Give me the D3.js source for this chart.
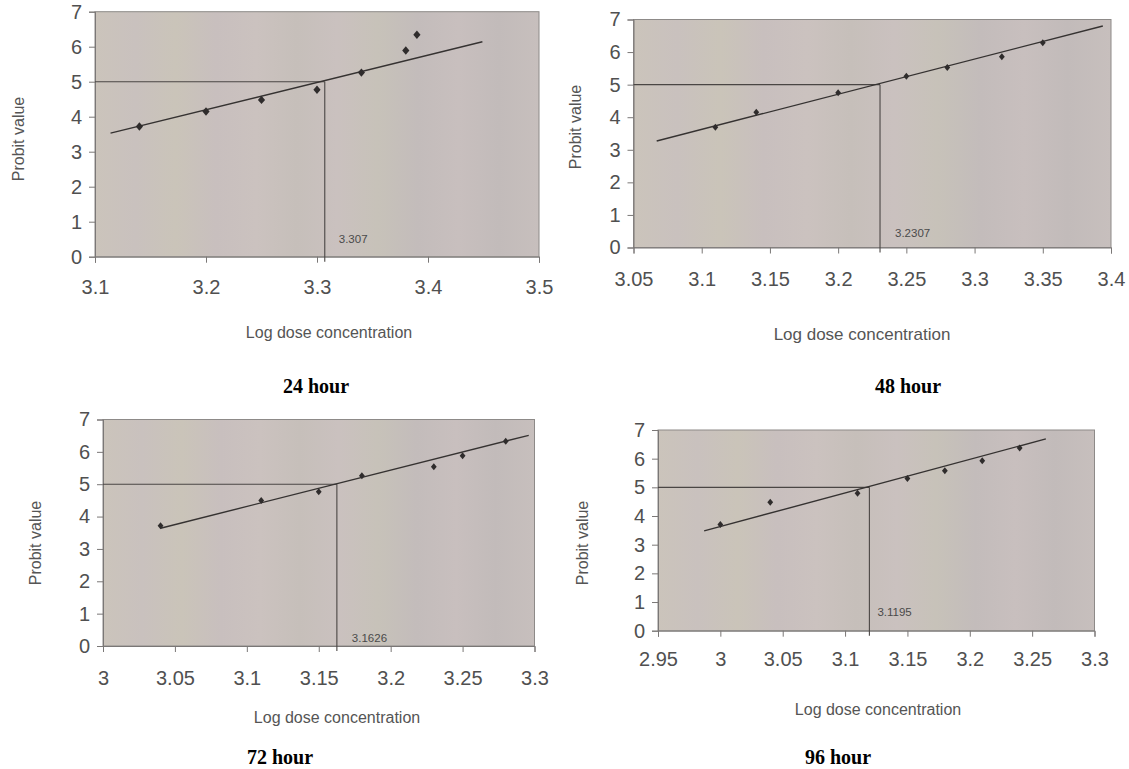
<!DOCTYPE html>
<html>
<head>
<meta charset="utf-8">
<script src="https://cdn.jsdelivr.net/npm/d3@7"></script>
<style>
  html, body { margin: 0; padding: 0; background: #fff; }
  svg { display: block; }
</style>
</head>
<body>
<div id="chart"></div>
<script>
// values
var hours = ["24 hour", "48 hour", "72 hour", "96 hour"];

var dose24 = [3.14, 3.20, 3.25, 3.30, 3.34, 3.38, 3.39];
var probit24 = [3.72, 4.15, 4.48, 4.77, 5.26, 5.89, 6.34];
var fit24 = [[3.114, 3.53], [3.449, 6.14]];
var lc24 = 3.307;
var xTicks24 = ["3.1", "3.2", "3.3", "3.4", "3.5"];

var dose48 = [3.11, 3.14, 3.20, 3.25, 3.28, 3.32, 3.35];
var probit48 = [3.69, 4.15, 4.75, 5.26, 5.53, 5.86, 6.29];
var fit48 = [[3.067, 3.27], [3.394, 6.80]];
var lc48 = 3.2307;
var xTicks48 = ["3.05", "3.1", "3.15", "3.2", "3.25", "3.3", "3.35", "3.4"];

var dose72 = [3.04, 3.11, 3.15, 3.18, 3.23, 3.25, 3.28];
var probit72 = [3.72, 4.50, 4.77, 5.26, 5.54, 5.88, 6.33];
var fit72 = [[3.04, 3.64], [3.296, 6.51]];
var lc72 = 3.1626;
var xTicks72 = ["3", "3.05", "3.1", "3.15", "3.2", "3.25", "3.3"];

var dose96 = [3.00, 3.04, 3.11, 3.15, 3.18, 3.21, 3.24];
var probit96 = [3.70, 4.48, 4.79, 5.31, 5.58, 5.93, 6.37];
var fit96 = [[2.987, 3.48], [3.261, 6.69]];
var lc96 = 3.1195;
var xTicks96 = ["2.95", "3", "3.05", "3.1", "3.15", "3.2", "3.25", "3.3"];

var yTicks = ["0", "1", "2", "3", "4", "5", "6", "7"];
var probitMid = 5;

// layout of each panel on the page (pixels)
var panels = [
  {title: hours[0], dose: dose24, probit: probit24, fit: fit24, lc: lc24, ticks: xTicks24,
   box: {l: 95, r: 539, t: 11.7, b: 256.7}, mark: [3.6, 4.2], lcDx: 14, lcDy: -18,
   tickY: 30, axisTitle: [329, 338, 16], hour: [316, 393], ylab: [18, 139]},
  {title: hours[1], dose: dose48, probit: probit48, fit: fit48, lc: lc48, ticks: xTicks48,
   box: {l: 633.5, r: 1111, t: 19.5, b: 247.5}, mark: [2.9, 3.5], lcDx: 15, lcDy: -15,
   tickY: 31, axisTitle: [862, 340, 17], hour: [908, 393], ylab: [575, 127]},
  {title: hours[2], dose: dose72, probit: probit72, fit: fit72, lc: lc72, ticks: xTicks72,
   box: {l: 103, r: 534.5, t: 419.5, b: 646}, mark: [2.9, 3.5], lcDx: 15, lcDy: -8,
   tickY: 32, axisTitle: [337, 723, 16], hour: [280, 764], ylab: [35, 543]},
  {title: hours[3], dose: dose96, probit: probit96, fit: fit96, lc: lc96, ticks: xTicks96,
   box: {l: 658, r: 1094.5, t: 430, b: 630.7}, mark: [2.9, 3.5], lcDx: 8, lcDy: -19,
   tickY: 28, axisTitle: [878, 715, 16], hour: [838, 764], ylab: [582, 543]}
];

var tickFont = 20;

var svg = d3.select("#chart").append("svg")
  .attr("width", 1129)
  .attr("height", 769);

// scanned paper look of the plot areas
var bands = ["#cbc4bb", "#c9c1be", "#cac4b9", "#c8bfbe", "#cbc2bf", "#c6bfba",
             "#cac1bf", "#c7c2b9", "#c3bcbb", "#c8bfbe", "#c2bbba", "#c7bfbd"];
var grad = svg.append("defs").append("linearGradient")
  .attr("id", "paper").attr("x1", 0).attr("x2", 1).attr("y1", 0).attr("y2", 0);
bands.forEach(function(c, i) {
  grad.append("stop").attr("offset", (i / (bands.length - 1))).attr("stop-color", c);
});

panels.forEach(function(p) {
  var xs = p.ticks.map(Number);
  var x = d3.scaleLinear().domain([xs[0], xs[xs.length - 1]]).range([p.box.l, p.box.r]);
  var y = d3.scaleLinear().domain([0, 7]).range([p.box.b, p.box.t]);
  var g = svg.append("g");

  g.append("rect")
    .attr("x", p.box.l).attr("y", p.box.t)
    .attr("width", p.box.r - p.box.l).attr("height", p.box.b - p.box.t)
    .attr("fill", "url(#paper)")
    .attr("stroke", "#8d8a88").attr("stroke-width", 1);

  var xAxis = d3.axisBottom(x).tickValues(xs)
    .tickFormat(function(d, i) { return p.ticks[i]; })
    .tickSize(6).tickPadding(p.tickY - 6 - 0.35 * tickFont);
  var yAxis = d3.axisLeft(y).tickValues(yTicks.map(Number))
    .tickFormat(function(d, i) { return yTicks[i]; })
    .tickSize(6).tickPadding(7);

  var gx = g.append("g").attr("transform", "translate(0," + p.box.b + ")").call(xAxis);
  var gy = g.append("g").attr("transform", "translate(" + p.box.l + ",0)").call(yAxis);
  [gx, gy].forEach(function(a) {
    a.attr("font-family", "Liberation Sans, Arial, sans-serif").attr("font-size", tickFont);
    a.select(".domain").attr("stroke", "#7a7776");
    a.selectAll(".tick line").attr("stroke", "#7a7776");
    a.selectAll(".tick text").attr("fill", "#505050");
  });

  // LC50 guide lines
  g.append("line")
    .attr("x1", p.box.l).attr("x2", x(p.lc))
    .attr("y1", y(probitMid)).attr("y2", y(probitMid))
    .attr("stroke", "#4a4644").attr("stroke-width", 1.1);
  g.append("line")
    .attr("x1", x(p.lc)).attr("x2", x(p.lc))
    .attr("y1", y(probitMid)).attr("y2", p.box.b + 5)
    .attr("stroke", "#4a4644").attr("stroke-width", 1.1);
  g.append("text")
    .attr("x", x(p.lc) + p.lcDx).attr("y", p.box.b + p.lcDy)
    .attr("dy", "0.35em")
    .attr("font-family", "Liberation Sans, Arial, sans-serif")
    .attr("font-size", 11.5).attr("fill", "#4a4a4a")
    .text(String(p.lc));

  // regression line
  g.append("line")
    .attr("x1", x(p.fit[0][0])).attr("y1", y(p.fit[0][1]))
    .attr("x2", x(p.fit[1][0])).attr("y2", y(p.fit[1][1]))
    .attr("stroke", "#353231").attr("stroke-width", 1.4);

  var w = p.mark[0], h = p.mark[1];
  g.selectAll("path.pt")
    .data(p.dose)
    .enter()
    .append("path")
    .attr("class", "pt")
    .attr("d", "M0," + (-h) + "L" + w + ",0L0," + h + "L" + (-w) + ",0Z")
    .attr("transform", function(d, i) {
      return "translate(" + x(d) + "," + y(p.probit[i]) + ")";
    })
    .attr("fill", "#2f2c2c");

  g.append("text")
    .attr("transform", "translate(" + p.ylab[0] + "," + p.ylab[1] + ") rotate(-90)")
    .attr("text-anchor", "middle").attr("dy", "0.35em")
    .attr("font-family", "Liberation Sans, Arial, sans-serif")
    .attr("font-size", 16).attr("fill", "#555")
    .text("Probit value");

  g.append("text")
    .attr("x", p.axisTitle[0]).attr("y", p.axisTitle[1])
    .attr("text-anchor", "middle")
    .attr("font-family", "Liberation Sans, Arial, sans-serif")
    .attr("font-size", p.axisTitle[2]).attr("fill", "#555")
    .text("Log dose concentration");

  g.append("text")
    .attr("x", p.hour[0]).attr("y", p.hour[1])
    .attr("text-anchor", "middle")
    .attr("font-family", "Liberation Serif, 'Times New Roman', serif")
    .attr("font-weight", "bold")
    .attr("font-size", 20).attr("fill", "#000")
    .text(p.title);
});
</script>
</body>
</html>
